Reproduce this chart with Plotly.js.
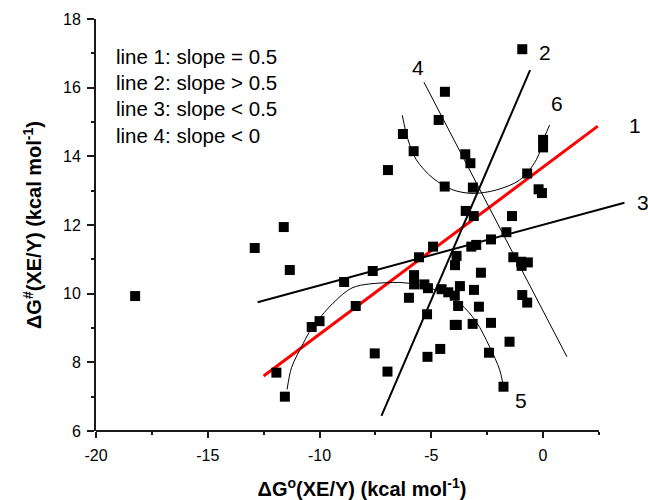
<!DOCTYPE html>
<html>
<head>
<meta charset="utf-8">
<script src="https://cdn.plot.ly/plotly-3.0.1.min.js"></script>
<style>html,body{margin:0;padding:0;background:#fff;}#chart{width:648px;height:500px;}</style>
</head>
<body>
<div id="chart"></div>
<script>
// Scatter data: ΔG°(XE/Y) vs ΔG#(XE/Y)
const pointsX = [-18.25,-12.9,-11.6,-11.33,-10.35,-10.0,-11.93,-11.55,-8.9,-7.62,-8.38,-7.53,-6.96,
  -5.55,-5.77,-5.77,-5.31,-5.15,-6.0,-5.19,-5.17,-4.6,-4.54,-4.24,-3.95,-3.8,-3.95,-3.86,-3.72,-3.87,-3.94,
  -3.09,-2.87,-3.15,-2.33,-2.78,-2.42,-1.5,-1.77,-1.33,-0.98,-0.68,-0.96,-0.93,-0.71,
  -3.46,-3.1,-1.39,-1.64,-2.33,-2.99,-3.21,-4.92,-0.2,-0.05,
  -0.93,-4.39,-4.67,-6.27,-5.79,-6.94,-3.48,-3.25,-4.4,-3.14,-0.71,0.0,0.0];
const pointsY = [9.93,11.33,11.94,10.69,9.03,9.2,7.7,7.0,10.34,10.66,9.64,8.26,7.73,
  11.06,10.54,10.27,10.27,10.16,9.88,9.4,8.16,8.39,10.13,10.04,9.94,9.64,9.09,9.09,10.22,11.1,10.83,
  10.11,9.62,9.12,9.15,10.61,8.28,8.6,7.29,11.06,10.93,10.91,10.81,9.96,9.74,
  12.41,12.26,12.26,11.79,11.58,11.42,11.37,11.37,13.04,12.93,
  17.12,15.88,15.06,14.65,14.15,13.6,14.06,13.8,13.12,13.09,13.5,14.48,14.26];

// Straight reference lines (end points)
const line1X = [-12.5, 2.45],  line1Y = [7.6, 14.88];
const line2X = [-7.23, -0.58], line2Y = [6.44, 16.51];
const line3X = [-12.77, 3.64], line3Y = [9.75, 12.65];
const line4X = [-5.33, 1.07],  line4Y = [16.16, 8.16];

// Curves 5 and 6
const curve5X = [-11.45,-11.25,-10.73,-10.36,-9.4,-8.5,-7.0,-5.97,-4.78,-3.73,-2.99,-2.39,-1.94,-1.75];
const curve5Y = [7.21,7.85,8.55,8.98,9.72,10.18,10.32,10.3,10.1,9.72,9.18,8.45,7.78,7.19];
const curve6X = [-6.3,-6.04,-5.67,-4.92,-4.02,-3.13,-2.09,-1.05,-0.3,0.07,0.29];
const curve6Y = [15.2,14.48,13.9,13.36,13.02,12.92,13.02,13.31,13.9,14.57,14.91];

// Labels
const lineLabels = ['1','2','3','4','5','6'];
const lineLabelPX = [1.0132, 0.844, 1.028, 0.6047, 0.7989, 0.8665];
const lineLabelPY = [0.7403, 0.9199, 0.5534, 0.8818, 0.0752, 0.7961];
const legendLines = ['line 1: slope = 0.5','line 2: slope &gt; 0.5','line 3: slope &lt; 0.5','line 4: slope &lt; 0'];
const legendPY = [0.9078, 0.8447, 0.7816, 0.7184];

const xTicks = [-20,-15,-10,-5,0];
const yTicks = [6,8,10,12,14,16,18];

const FONT = 'Liberation Sans, Arial, Helvetica, sans-serif';
const AX = '#1a1a1a';

const traces = [
  {x: line1X, y: line1Y, mode:'lines', line:{color:'#ff0000', width:3}},
  {x: line2X, y: line2Y, mode:'lines', line:{color:'#000', width:2}},
  {x: line3X, y: line3Y, mode:'lines', line:{color:'#000', width:2}},
  {x: line4X, y: line4Y, mode:'lines', line:{color:'#000', width:1}},
  {x: curve5X, y: curve5Y, mode:'lines', line:{color:'#000', width:1, shape:'spline', smoothing:0.9}},
  {x: curve6X, y: curve6Y, mode:'lines', line:{color:'#000', width:1, shape:'spline', smoothing:0.9}},
  {x: pointsX, y: pointsY, mode:'markers', marker:{symbol:'square', size:10, color:'#000', line:{width:0}}}
];

const annotations = [];
lineLabels.forEach((t,i)=>annotations.push({xref:'paper', yref:'paper', x:lineLabelPX[i], y:lineLabelPY[i],
  text:t, showarrow:false, xanchor:'center', yanchor:'middle', font:{family:FONT, size:21, color:'#000'}}));
legendLines.forEach((t,i)=>annotations.push({xref:'paper', yref:'paper', x:0.0338, y:legendPY[i],
  text:t, showarrow:false, xanchor:'left', yanchor:'middle', font:{family:FONT, size:20.5, color:'#000'}}));

const layout = {
  width:648, height:500,
  margin:{l:96, r:20, t:19, b:69},
  paper_bgcolor:'#fff', plot_bgcolor:'#fff',
  showlegend:false,
  font:{family:FONT, color:'#000'},
  xaxis:{
    range:[-20, 3.8], tickvals:xTicks, ticktext:xTicks.map(String),
    showgrid:false, zeroline:false, showline:false,
    ticks:'outside', ticklen:6, tickwidth:2, tickcolor:AX,
    minor:{tickvals:[-17.5,-12.5,-7.5,-2.5,2.5], ticks:'outside', ticklen:3, tickwidth:2, tickcolor:AX, showgrid:false},
    tickfont:{family:FONT, size:16, color:'#000'}, ticklabelstandoff:4,
    title:{text:'<b>ΔG<sup>o</sup>(XE/Y) (kcal mol<sup>-1</sup>)</b>', font:{family:FONT, size:20, color:'#000'}, standoff:19}
  },
  yaxis:{
    range:[6,18], tickvals:yTicks, ticktext:yTicks.map(String),
    showgrid:false, zeroline:false, showline:true, linecolor:AX, linewidth:2,
    ticks:'outside', ticklen:7, tickwidth:2, tickcolor:AX,
    minor:{dtick:1, tick0:0, ticks:'outside', ticklen:3, tickwidth:2, tickcolor:AX, showgrid:false},
    tickfont:{family:FONT, size:16, color:'#000'}, ticklabelstandoff:3,
    title:{text:'<b>ΔG<sup>#</sup>(XE/Y) (kcal mol<sup>-1</sup>)</b>', font:{family:FONT, size:20, color:'#000'}, standoff:16}
  },
  shapes:[
    {type:'line', xref:'x', yref:'paper', x0:-20, x1:2.5, y0:0, y1:0, line:{color:AX, width:2}, layer:'above'}
  ],
  annotations: annotations
};

Plotly.newPlot('chart', traces, layout, {staticPlot:true, displayModeBar:false});
</script>
</body>
</html>
